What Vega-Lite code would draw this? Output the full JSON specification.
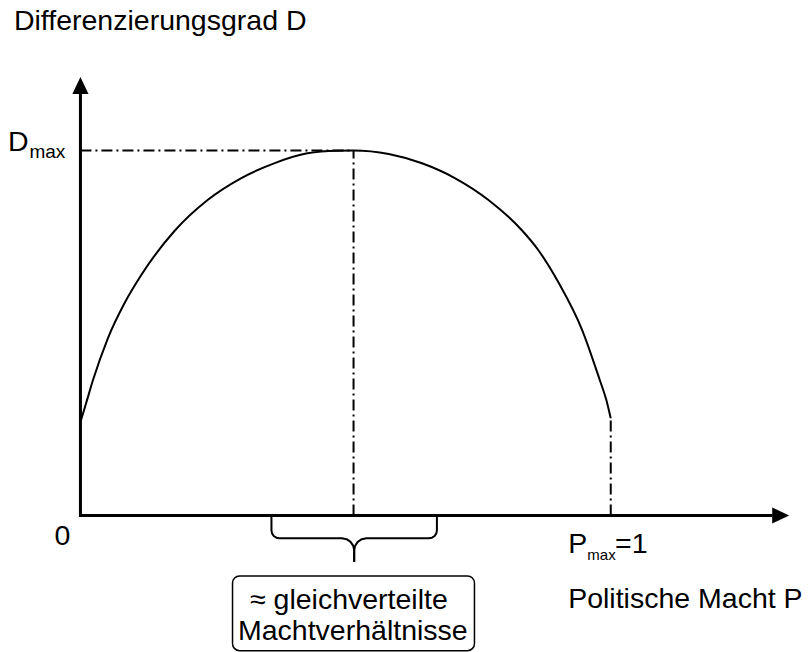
{
  "$schema": "https://vega.github.io/schema/vega-lite/v6.json",
  "width": 810,
  "height": 652,
  "padding": 0,
  "autosize": {"type": "none"},
  "background": "white",
  "config": {"view": {"stroke": null}},
  "encoding": {
    "x": {"field": "x", "type": "quantitative", "scale": {"domain": [-0.15169, 1.37575], "nice": false, "zero": false}, "axis": null},
    "y": {"field": "y", "type": "quantitative", "scale": {"domain": [-0.37397, 1.41233], "nice": false, "zero": false}, "axis": null}
  },
  "layer": [
    {
      "data": {"values": [{"x": 0.2868, "x2": 0.7430, "y": -0.1658, "y2": -0.3704}]},
      "mark": {"type": "rect", "fill": "white", "stroke": "black", "strokeWidth": 1.5, "cornerRadius": 7},
      "encoding": {"x2": {"field": "x2"}, "y2": {"field": "y2"}}
    },
    {
      "data": {"values": [
        {"x": 0, "y": 0, "x2": 0.5150, "y2": 1.0, "seg": "h"},
        {"x": 0.5150, "y": 0, "x2": 0.5150, "y2": 1.0, "seg": "v1"},
        {"x": 1.0, "y": 0, "x2": 1.0, "y2": 0.2663, "seg": "v2"}
      ]},
      "layer": [
        {
          "transform": [{"filter": "datum.seg === 'h'"}],
          "mark": {"type": "rule", "color": "black", "strokeWidth": 2, "strokeDash": [11, 4, 2, 4]},
          "encoding": {"y": {"field": "y2", "type": "quantitative"}, "x2": {"field": "x2"}}
        },
        {
          "transform": [{"filter": "datum.seg !== 'h'"}],
          "mark": {"type": "rule", "color": "black", "strokeWidth": 2, "strokeDash": [11, 4, 2, 4]},
          "encoding": {"y2": {"field": "y2"}}
        }
      ]
    },
    {
      "data": {"values": [
        {"x": 0, "y": 0.2562}, {"x": 0.00996, "y": 0.3041}, {"x": 0.0237, "y": 0.3712},
        {"x": 0.0519, "y": 0.4863}, {"x": 0.0833, "y": 0.5822}, {"x": 0.1147, "y": 0.6589},
        {"x": 0.1773, "y": 0.7795}, {"x": 0.2398, "y": 0.8644}, {"x": 0.3026, "y": 0.9238},
        {"x": 0.3652, "y": 0.9649}, {"x": 0.4278, "y": 0.9923}, {"x": 0.4842, "y": 0.9995},
        {"x": 0.5150, "y": 1.0}, {"x": 0.5814, "y": 0.9904}, {"x": 0.6440, "y": 0.9649},
        {"x": 0.7068, "y": 0.9238}, {"x": 0.7694, "y": 0.8644}, {"x": 0.8320, "y": 0.7822},
        {"x": 0.8633, "y": 0.7274}, {"x": 0.9023, "y": 0.6362}, {"x": 0.9461, "y": 0.5082},
        {"x": 0.9793, "y": 0.3712}, {"x": 0.9917, "y": 0.3164}, {"x": 1.0, "y": 0.2663}
      ]},
      "mark": {"type": "line", "color": "black", "strokeWidth": 2, "interpolate": "monotone"},
      "encoding": {}
    },
    {
      "data": {"values": [
        {"i": 0, "x": 0, "y": 1.1575},
        {"i": 1, "x": 0, "y": 0},
        {"i": 2, "x": 1.305, "y": 0}
      ]},
      "mark": {"type": "line", "color": "black", "strokeWidth": 3, "strokeJoin": "miter", "strokeCap": "butt"},
      "encoding": {"order": {"field": "i", "type": "quantitative"}}
    },
    {
      "data": {"values": [{"x": 0, "y": 1.178}]},
      "mark": {"type": "point", "shape": "M0,-1L-0.95,1L0.95,1Z", "size": 289, "filled": true, "color": "black", "opacity": 1, "strokeWidth": 0},
      "encoding": {}
    },
    {
      "data": {"values": [{"x": 1.3205, "y": 0}]},
      "mark": {"type": "point", "shape": "M1,0L-1,-0.95L-1,0.95Z", "size": 289, "filled": true, "color": "black", "opacity": 1, "strokeWidth": 0},
      "encoding": {}
    },
    {
      "data": {"values": [
        {"arm": "L", "i": 0, "x": 0.3602, "y": -0.0014},
        {"arm": "L", "i": 1, "x": 0.3602, "y": -0.0405},
        {"arm": "L", "i": 2, "x": 0.3613, "y": -0.0490},
        {"arm": "L", "i": 3, "x": 0.3645, "y": -0.0562},
        {"arm": "L", "i": 4, "x": 0.3694, "y": -0.0608},
        {"arm": "L", "i": 5, "x": 0.3752, "y": -0.0625},
        {"arm": "L", "i": 6, "x": 0.4930, "y": -0.0625},
        {"arm": "L", "i": 7, "x": 0.5019, "y": -0.0649},
        {"arm": "L", "i": 8, "x": 0.5094, "y": -0.0723},
        {"arm": "L", "i": 9, "x": 0.5145, "y": -0.0833},
        {"arm": "L", "i": 10, "x": 0.5162, "y": -0.0962},
        {"arm": "L", "i": 11, "x": 0.5162, "y": -0.1274},
        {"arm": "R", "i": 0, "x": 0.6722, "y": -0.0014},
        {"arm": "R", "i": 1, "x": 0.6722, "y": -0.0405},
        {"arm": "R", "i": 2, "x": 0.6711, "y": -0.0490},
        {"arm": "R", "i": 3, "x": 0.6679, "y": -0.0562},
        {"arm": "R", "i": 4, "x": 0.6630, "y": -0.0608},
        {"arm": "R", "i": 5, "x": 0.6571, "y": -0.0625},
        {"arm": "R", "i": 6, "x": 0.5393, "y": -0.0625},
        {"arm": "R", "i": 7, "x": 0.5305, "y": -0.0649},
        {"arm": "R", "i": 8, "x": 0.5229, "y": -0.0723},
        {"arm": "R", "i": 9, "x": 0.5179, "y": -0.0833},
        {"arm": "R", "i": 10, "x": 0.5162, "y": -0.0962},
        {"arm": "R", "i": 11, "x": 0.5162, "y": -0.1274}
      ]},
      "mark": {"type": "line", "color": "black", "strokeWidth": 2, "strokeJoin": "round"},
      "encoding": {"detail": {"field": "arm"}, "order": {"field": "i", "type": "quantitative"}}
    },
    {
      "data": {"values": [
        {"label": "Differenzierungsgrad D", "x": -0.1254, "y": 1.330},
        {"label": "D", "x": -0.1367, "y": 1.0},
        {"label": "P", "x": 0.9197, "y": -0.1036},
        {"label": "=1", "x": 1.008, "y": -0.1036},
        {"label": "Politische Macht P", "x": 0.9197, "y": -0.2542}
      ]},
      "mark": {"type": "text", "align": "left", "baseline": "alphabetic", "font": "Liberation Sans", "fontSize": 28.5, "color": "black"},
      "encoding": {"text": {"field": "label"}}
    },
    {
      "data": {"values": [
        {"label": "0", "x": -0.0342, "y": -0.0808},
        {"label": "≈ gleichverteilte", "x": 0.5062, "y": -0.2575},
        {"label": "Machtverhältnisse", "x": 0.5137, "y": -0.3411}
      ]},
      "mark": {"type": "text", "align": "center", "baseline": "alphabetic", "font": "Liberation Sans", "fontSize": 28.5, "color": "black"},
      "encoding": {"text": {"field": "label"}}
    },
    {
      "data": {"values": [{"label": "max", "x": -0.0962, "y": 0.9786}]},
      "mark": {"type": "text", "align": "left", "baseline": "alphabetic", "font": "Liberation Sans", "fontSize": 19, "color": "black"},
      "encoding": {"text": {"field": "label"}}
    },
    {
      "data": {"values": [{"label": "max", "x": 0.9558, "y": -0.1219}]},
      "mark": {"type": "text", "align": "left", "baseline": "alphabetic", "font": "Liberation Sans", "fontSize": 15, "color": "black"},
      "encoding": {"text": {"field": "label"}}
    }
  ]
}
